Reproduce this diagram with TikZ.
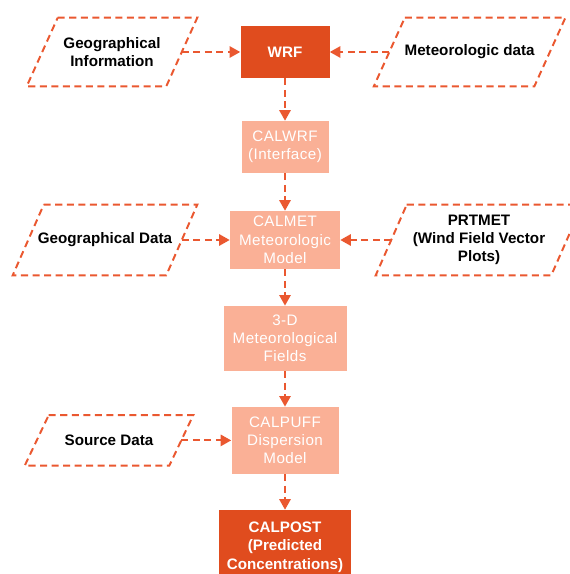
\documentclass[tikz,border=0pt]{standalone}
\usepackage{fontspec}
\setmainfont{Liberation Sans}
\newfontfamily\spacedfont[LetterSpace=3]{Liberation Sans}
\usepackage{tikz}
\usetikzlibrary{arrows.meta}
\definecolor{darkorange}{RGB}{224,76,30}
\definecolor{lightsalmon}{RGB}{250,176,150}
\definecolor{dashorange}{RGB}{234,88,48}
\newcommand{\txtsize}{\fontsize{10.8}{13}\selectfont}
% slanted dashed outline round a named input node: #1 node, #2 half slant
\newcommand{\slantframe}[2]{%
  \draw[dashline] ([xshift=#2]#1.north west) -- ([xshift=#2]#1.north east)
    -- ([xshift=-#2]#1.south east) -- ([xshift=-#2]#1.south west) -- cycle;}

\begin{document}
\begin{tikzpicture}[
    darkbox/.style={fill=darkorange, text=white, font=\txtsize\bfseries, align=center, inner sep=0pt},
    lightbox/.style={fill=lightsalmon, text=white, font=\txtsize\spacedfont, align=center, inner sep=0pt},
    inputbox/.style={font=\txtsize\bfseries, align=center, inner sep=0pt},
    dashline/.style={dashorange, line width=1.4pt, dash pattern=on 5pt off 3.2pt},
    flow/.style={dashline, -{Triangle[length=7.5pt, width=8pt]}}
  ]
    \useasboundingbox (0,0) rectangle (14.225,-14.35);

    % main chain
    \node[darkbox, minimum width=2.225cm, minimum height=1.3cm] (wrf) at (7.125,-1.3) {WRF};
    \node[lightbox, minimum width=2.175cm, minimum height=1.3cm] (calwrf) at (7.125,-3.675) {CALWRF\\(Interface)};
    \node[lightbox, minimum width=2.75cm, minimum height=1.45cm] (calmet) at (7.125,-6.0) {CALMET\\Meteorologic\\Model};
    \node[lightbox, minimum width=3.075cm, minimum height=1.625cm] (fields) at (7.125,-8.46) {3-D\\Meteorological\\Fields};
    \node[lightbox, minimum width=2.675cm, minimum height=1.675cm] (calpuff) at (7.125,-11.01) {CALPUFF\\Dispersion\\Model};
    \node[darkbox, minimum width=3.3cm, minimum height=1.85cm] (calpost) at (7.125,-13.675) {CALPOST\\(Predicted\\Concentrations)};

    % inputs
    \node[inputbox, minimum width=3.475cm, minimum height=1.7cm] (geoinfo) at (2.8,-1.3) {Geographical\\Information};
    \node[inputbox, minimum width=4.0cm, minimum height=1.7cm] (metdata) at (11.74,-1.3) {Meteorologic data};
    \node[inputbox, minimum width=3.825cm, minimum height=1.75cm] (geodata) at (2.625,-6.0) {Geographical Data};
    \node[inputbox, minimum width=4.375cm, minimum height=1.75cm] (prtmet) at (11.975,-6.0) {PRTMET\\(Wind Field Vector\\Plots)};
    \node[inputbox, minimum width=3.6cm, minimum height=1.25cm] (source) at (2.725,-11.01) {Source Data};

    \slantframe{geoinfo}{0.3875cm}
    \slantframe{metdata}{0.3875cm}
    \slantframe{geodata}{0.3875cm}
    \slantframe{prtmet}{0.3875cm}
    \slantframe{source}{0.3cm}

    \draw[flow] (geoinfo) -- (wrf);
    \draw[flow] (metdata) -- (wrf);
    \draw[flow] (wrf) -- (calwrf);
    \draw[flow] (calwrf) -- (calmet);
    \draw[flow] (geodata) -- (calmet);
    \draw[flow] (prtmet) -- (calmet);
    \draw[flow] (calmet) -- (fields);
    \draw[flow] (fields) -- (calpuff);
    \draw[flow] (source) -- (calpuff);
    \draw[flow] (calpuff) -- (calpost);
  \end{tikzpicture}
\end{document}
